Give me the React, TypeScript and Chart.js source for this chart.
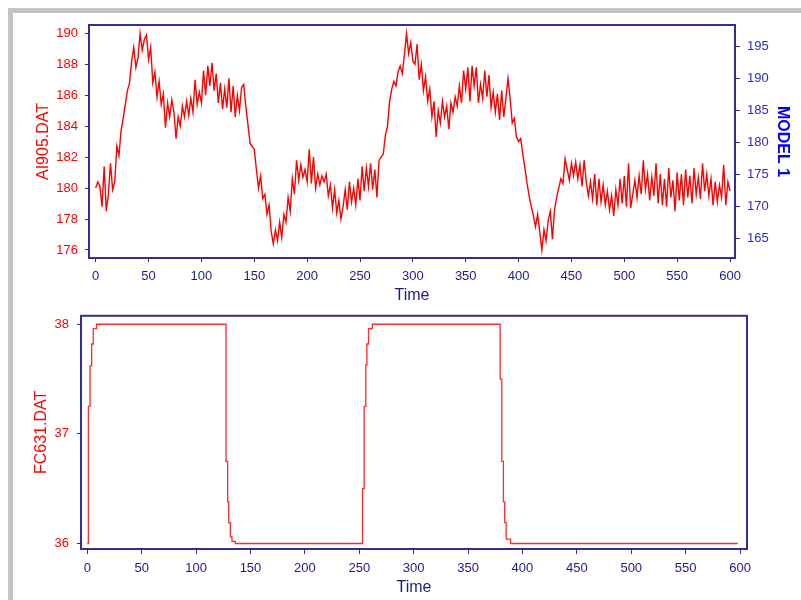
import React, { useEffect, useRef } from 'react';
import { Chart, registerables } from 'chart.js';

Chart.register(...registerables);

// ---- data ----
const SAMPLE_STEP = 2; // AI905.DAT sampled every 2 time units, 0..600
const ai905Values = [
  180.0, 180.4, 180.1, 178.8, 181.4, 178.5, 179.6, 181.6, 179.9, 180.4,
  182.7, 182.1, 183.7, 184.5, 185.4, 186.3, 186.8, 188.2, 189.1, 187.8,
  188.4, 190.0, 188.9, 189.6, 189.9, 188.3, 189.1, 186.8, 187.5, 185.9,
  186.9, 185.4, 186.1, 183.9, 185.5, 184.6, 185.7, 184.9, 183.2, 184.6,
  184.0, 185.3, 184.6, 185.6, 184.7, 185.8, 184.9, 187.0, 185.4, 186.2,
  185.5, 187.6, 186.0, 187.9, 186.6, 188.1, 186.3, 187.4, 185.5, 186.8,
  185.1, 186.4, 185.2, 187.1, 184.9, 186.6, 184.6, 186.0, 185.0, 186.5,
  186.7, 185.3, 184.1, 182.9, 182.7, 182.5, 181.2, 180.0, 180.8, 179.3,
  179.6, 178.3, 178.9, 177.2, 176.4, 177.3, 176.6, 177.8, 176.8, 178.3,
  177.8, 179.4, 178.5, 180.6, 179.6, 181.8, 180.5, 181.5, 180.7, 181.2,
  180.4, 182.5, 180.3, 182.0, 180.0, 180.9, 180.2, 180.8, 180.4, 180.9,
  179.5, 180.2, 178.7, 179.9, 178.4, 179.2, 178.0, 178.8, 179.9, 178.6,
  180.4, 179.1, 180.0, 178.9, 180.6, 179.2, 181.4, 179.8, 181.3, 180.1,
  181.6, 179.9, 181.2, 179.4, 181.8, 182.0, 182.2, 183.4, 184.0, 185.6,
  186.4, 186.9, 186.6, 187.5, 187.9, 187.4, 188.6, 190.0, 188.7, 189.4,
  188.2, 188.0, 189.3, 187.0, 188.0, 186.3, 187.2, 185.6, 186.4, 184.6,
  185.6, 183.3, 185.0, 184.2, 185.6, 184.6, 185.3, 183.8, 185.5, 184.9,
  185.9, 185.3, 186.6, 185.5, 187.6, 186.4, 187.8, 185.6, 187.9, 186.6,
  187.8, 185.5, 186.7, 185.8, 187.6, 185.9, 187.3, 185.2, 186.2, 184.9,
  186.1, 184.4, 186.3, 184.6, 185.8, 187.1, 185.8, 184.2, 184.5, 183.3,
  183.0, 183.2, 182.2, 181.3, 180.3, 179.5, 178.8, 178.2, 177.5, 178.3,
  177.2, 176.0, 177.3, 176.6, 177.9, 178.5, 176.7, 178.6, 179.4, 180.0,
  180.6, 180.3, 181.9, 181.2, 180.5, 181.6, 180.8, 181.7, 180.6, 181.5,
  180.1, 181.8, 180.4, 179.5, 180.4, 179.3, 180.9, 178.9, 180.6, 179.1,
  180.2, 178.9, 179.8, 178.6, 179.5, 178.2, 179.9, 178.9, 180.6, 179.0,
  180.8, 178.8, 181.6, 178.7, 179.6, 180.5, 179.4, 180.8, 179.6, 181.8,
  179.9, 180.9, 179.2, 180.7, 179.5, 181.6, 179.0, 180.9, 178.9, 180.6,
  178.8, 181.3, 179.4, 180.5, 178.5, 181.0, 179.2, 180.9, 178.9, 181.2,
  179.4, 180.8, 179.0, 181.3, 179.6, 180.7, 179.3, 181.6, 179.8, 180.9,
  179.5, 180.6, 178.9, 180.4, 179.1, 180.2, 179.4, 181.5, 178.9, 180.4,
  179.8,
];

// FC631.DAT: stepped signal (value starts at the given time)
const fcTime = [0, 1, 2.5, 4, 5.5, 8.5, 127.5, 129, 130, 131.5, 133, 136, 253, 254.5, 256, 257, 258.5, 262, 379.5, 381, 382.5, 383.7, 385, 389, 598];
const fcValue = [36, 37.25, 37.62, 37.82, 37.96, 38, 36.75, 36.38, 36.19, 36.06, 36.02, 36, 36.5, 37.25, 37.63, 37.82, 37.96, 38, 37.5, 36.75, 36.38, 36.19, 36.04, 36, 36];

const timeTicks = [0, 50, 100, 150, 200, 250, 300, 350, 400, 450, 500, 550, 600];
const aiTicks = [176, 178, 180, 182, 184, 186, 188, 190];
const modelTicks = [165, 170, 175, 180, 185, 190, 195];
const fcTicks = [36, 37, 38];

// ---- styles ----
const FONT = "'Liberation Sans', Arial, sans-serif";
const TICK_SIZE = 13;
const NAVY = '#2f2f94';
const NAVY_TEXT = '#1c1c86';
const RED = '#ff0000';
const BLUE_TICK = '#2a2ac8';
const BLUE_TITLE = '#0000ff';

const framePlugin = {
  id: 'frame',
  afterDraw(chart: any) {
    const { ctx, chartArea: a } = chart;
    ctx.save();
    ctx.strokeStyle = NAVY;
    ctx.lineWidth = 2;
    ctx.strokeRect(a.left, a.top, a.right - a.left, a.bottom - a.top);
    ctx.restore();
  },
};

const setTicks = (values: number[]) => (scale: any) => {
  scale.ticks = values.map((v) => ({ value: v }));
};

function axisCommon(tickLength: number) {
  return {
    grid: { display: true, drawOnChartArea: false, drawTicks: true, tickLength, color: NAVY, lineWidth: 1 },
    border: { display: true, color: NAVY, width: 2 },
  };
}

function TopChart() {
  const ref = useRef<HTMLCanvasElement | null>(null);
  useEffect(() => {
    if (!ref.current) return;
    const data = ai905Values.map((v, i) => ({ x: i * SAMPLE_STEP, y: v }));
    const chart = new Chart(ref.current, {
      type: 'line',
      data: {
        datasets: [
          {
            label: 'AI905.DAT',
            data,
            borderColor: RED,
            borderWidth: 1.4,
            pointRadius: 0,
            fill: false,
            tension: 0,
            yAxisID: 'y',
          },
        ],
      },
      options: {
        responsive: false,
        animation: false,
        devicePixelRatio: 1,
        layout: { padding: { top: 25, left: 0, right: 0, bottom: 0 } },
        plugins: { legend: { display: false }, tooltip: { enabled: false } },
        events: [],
        scales: {
          x: {
            type: 'linear',
            position: 'bottom',
            min: -6.34,
            max: 604.7,
            afterBuildTicks: setTicks(timeTicks),
            afterFit: (s: any) => { s.height = 52; },
            ticks: { color: NAVY_TEXT, font: { size: TICK_SIZE, family: FONT }, padding: 7, maxRotation: 0, autoSkip: false },
            title: { display: true, text: 'Time', color: NAVY_TEXT, font: { size: 16, family: FONT }, padding: { top: 0, bottom: 4.4 } },
            ...axisCommon(4),
          },
          y: {
            type: 'linear',
            position: 'left',
            min: 175.48,
            max: 190.54,
            afterBuildTicks: setTicks(aiTicks),
            afterFit: (s: any) => { s.width = 89; },
            ticks: { color: RED, font: { size: TICK_SIZE, family: FONT }, padding: 7 },
            title: { display: true, text: 'AI905.DAT', color: RED, font: { size: 16, family: FONT }, padding: { top: 34.4, bottom: 0 } },
            ...axisCommon(4),
          },
          y2: {
            type: 'linear',
            position: 'right',
            display: true,
            min: 161.9,
            max: 198.4,
            afterBuildTicks: setTicks(modelTicks),
            afterFit: (s: any) => { s.width = 66; },
            ticks: { color: BLUE_TICK, font: { size: TICK_SIZE, family: FONT }, padding: 7 },
            title: { display: true, text: 'MODEL 1', color: BLUE_TITLE, font: { size: 16, family: FONT, weight: 'bold' }, padding: { top: 9.4, bottom: 0 } },
            ...axisCommon(5),
          },
        },
      },
      plugins: [framePlugin],
    } as any);
    return () => chart.destroy();
  }, []);
  return <canvas ref={ref} width={801} height={310} style={{ position: 'absolute', left: 0, top: 0, display: 'block' }} />;
}

function BottomChart() {
  const ref = useRef<HTMLCanvasElement | null>(null);
  useEffect(() => {
    if (!ref.current) return;
    const data = fcTime.map((t, i) => ({ x: t, y: fcValue[i] }));
    const chart = new Chart(ref.current, {
      type: 'line',
      data: {
        datasets: [
          {
            label: 'FC631.DAT',
            data,
            borderColor: '#ff2a2a',
            borderWidth: 1.3,
            pointRadius: 0,
            fill: false,
            stepped: 'before',
          },
        ],
      },
      options: {
        responsive: false,
        animation: false,
        devicePixelRatio: 1,
        layout: { padding: { top: 8, left: 0, right: 54, bottom: 0 } },
        plugins: { legend: { display: false }, tooltip: { enabled: false } },
        events: [],
        scales: {
          x: {
            type: 'linear',
            position: 'bottom',
            min: -5.79,
            max: 606.4,
            afterBuildTicks: setTicks(timeTicks),
            afterFit: (s: any) => { s.height = 51; },
            ticks: { color: NAVY_TEXT, font: { size: TICK_SIZE, family: FONT }, padding: 7, maxRotation: 0, autoSkip: false },
            title: { display: true, text: 'Time', color: NAVY_TEXT, font: { size: 16, family: FONT }, padding: { top: 0, bottom: 2.4 } },
            ...axisCommon(5),
          },
          y: {
            type: 'linear',
            position: 'left',
            min: 35.95,
            max: 38.077,
            afterBuildTicks: setTicks(fcTicks),
            afterFit: (s: any) => { s.width = 81; },
            ticks: { color: RED, font: { size: TICK_SIZE, family: FONT }, padding: 8 },
            title: { display: true, text: 'FC631.DAT', color: RED, font: { size: 16, family: FONT }, padding: { top: 32.1, bottom: 0 } },
            ...axisCommon(4),
          },
        },
      },
      plugins: [framePlugin],
    } as any);
    return () => chart.destroy();
  }, []);
  return <canvas ref={ref} width={801} height={300} style={{ position: 'absolute', left: 0, top: 300, display: 'block' }} />;
}

export default function App() {
  return (
    <div style={{ position: 'absolute', left: 0, top: 0, width: 801, height: 600, overflow: 'hidden', background: '#ffffff' }}>
      <div
        style={{
          position: 'absolute',
          left: 8,
          top: 8,
          width: 793,
          height: 592,
          boxSizing: 'border-box',
          borderTop: '5px solid #c3c3c3',
          borderLeft: '5px solid #c3c3c3',
        }}
      />
      <TopChart />
      <BottomChart />
    </div>
  );
}
